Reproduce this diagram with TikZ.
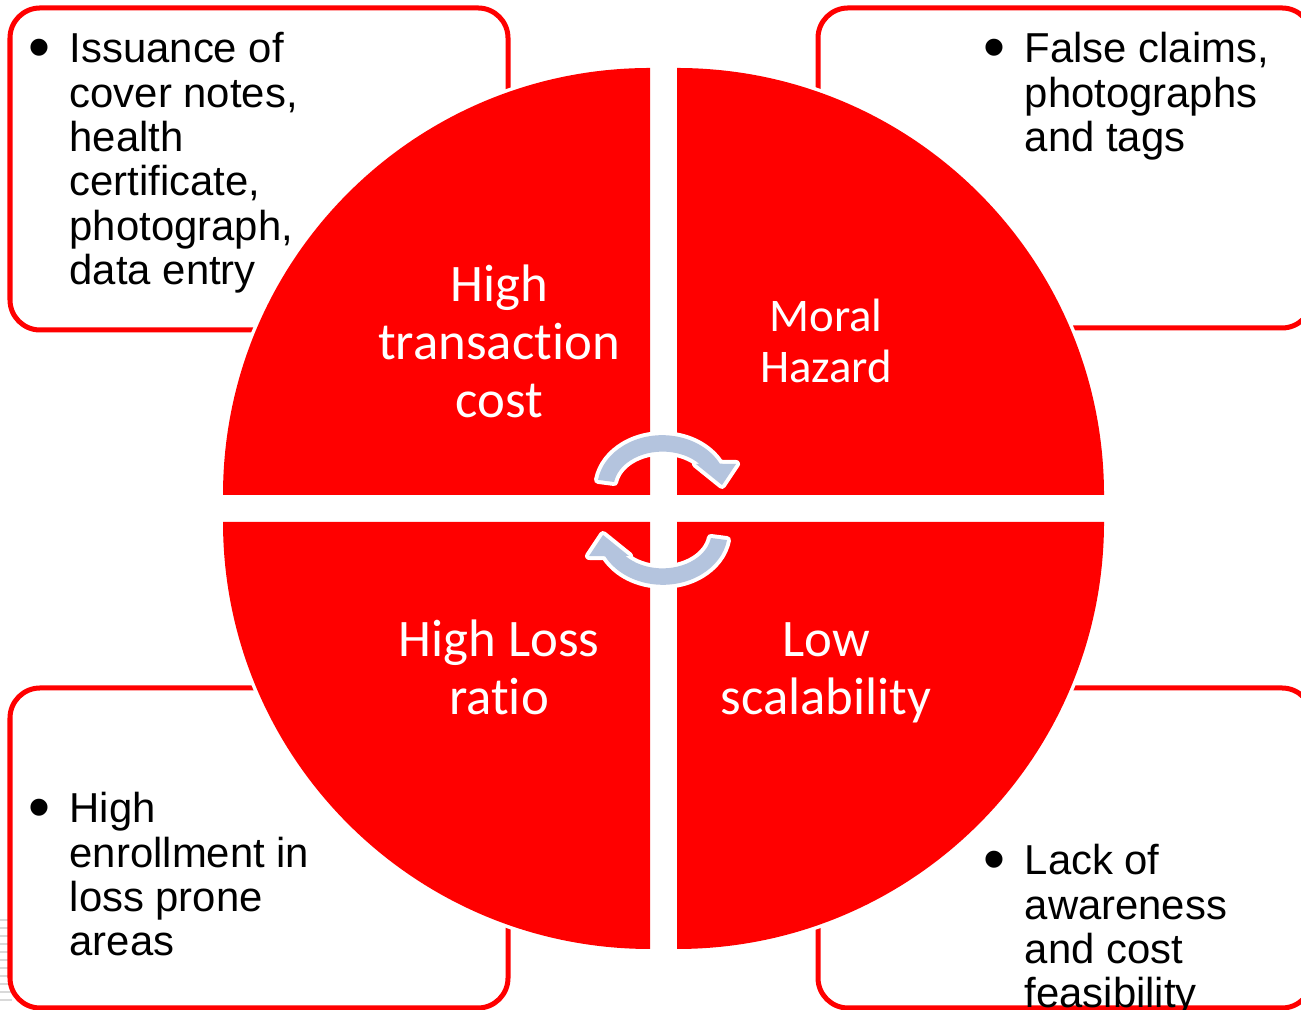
\documentclass[tikz,border=0pt]{standalone}
\usepackage{fontspec}
\setmainfont{Liberation Sans}
\newfontfamily\calibri[Ligatures=NoCommon]{Carlito}

\definecolor{flecha}{RGB}{180,196,222}
\newcommand{\vineta}{\raisebox{-0.13em}{\scalebox{1.5}{\textbullet}}}
\newcommand{\puntos}[1]{\begin{tabular}[t]{@{}p{0.41cm}@{}l@{}}#1\end{tabular}}

\begin{document}
\begin{tikzpicture}[x=0.01cm, y=0.01cm,
  caja/.style={draw=red, line width=0.05cm, fill=white, rounded corners=0.3cm},
  cuadrante/.style={fill=red, preaction={draw=white, line width=0.07cm}},
  etiqueta/.style={text=white, align=center, inner sep=0, anchor=base,
    font=\calibri\fontsize{15}{16.5}\selectfont},
  lista/.style={anchor=base west, inner sep=0,
    font=\fontsize{11.9}{12.6}\selectfont}]

\useasboundingbox (0,0) rectangle (1301,1010);
\clip (0,0) rectangle (1301,1010);

% Rayas grises del fondo
\foreach \y in {10,18,...,90}
  \draw[gray!30, line width=0.02cm] (0,\y) -- (12,\y);

% Cajas de texto
\draw[caja] (10,680) rectangle (508,1002);
\draw[caja] (818,682) rectangle (1312,1002);
\draw[caja] (10,2) rectangle (508,322);
\draw[caja] (818,2) rectangle (1312,322);

% Cuadrantes del circulo
\fill[cuadrante] (650,515) -- (223,515) arc[start angle=180, end angle=90, radius=427] -- cycle;
\fill[cuadrante] (677,515) -- (677,942) arc[start angle=90, end angle=0, radius=427] -- cycle;
\fill[cuadrante] (650,488) -- (650,61) arc[start angle=270, end angle=180, radius=427] -- cycle;
\fill[cuadrante] (677,488) -- (1104,488) arc[start angle=0, end angle=-90, radius=427] -- cycle;

% Flechas circulares
\foreach \giro in {0,180}
  \fill[fill=flecha, preaction={draw=white, line width=0.08cm, line join=round},
        rotate around={\giro:(662.5,500)}]
    (598,530.1) arc[start angle=171, end angle=27.5, x radius=65, y radius=53]
    -- (736,546) -- (722,525) -- (696,546) -- (699.5,546)
    arc[start angle=41, end angle=171, x radius=49, y radius=36] -- cycle;

% Textos de los cuadrantes
\node[etiqueta] (cost) at (499,592) {High\\transaction\\cost};
\node[etiqueta, font=\calibri\fontsize{13.3}{14.5}\selectfont] (hazard) at (826,627) {Moral\\Hazard};
\node[etiqueta] (lossratio) at (499,295) {High Loss\\ratio};
\node[etiqueta] (scalability) at (826,295) {Low\\scalability};

% Listas
\node[lista] (paperwork) at (28,947) {\puntos{\vineta & Issuance of\\ & cover notes,\\ & health\\ & certificate,\\ & photograph,\\ & data entry}};
\node[lista] (claims) at (983,947) {\puntos{\vineta & False claims,\\ & photographs\\ & and tags}};
\node[lista] (enrollment) at (28,187) {\puntos{\vineta & High\\ & enrollment in\\ & loss prone\\ & areas}};
\node[lista] (awareness) at (983,135) {\puntos{\vineta & Lack of\\ & awareness\\ & and cost\\ & feasibility}};

\end{tikzpicture}
\end{document}
